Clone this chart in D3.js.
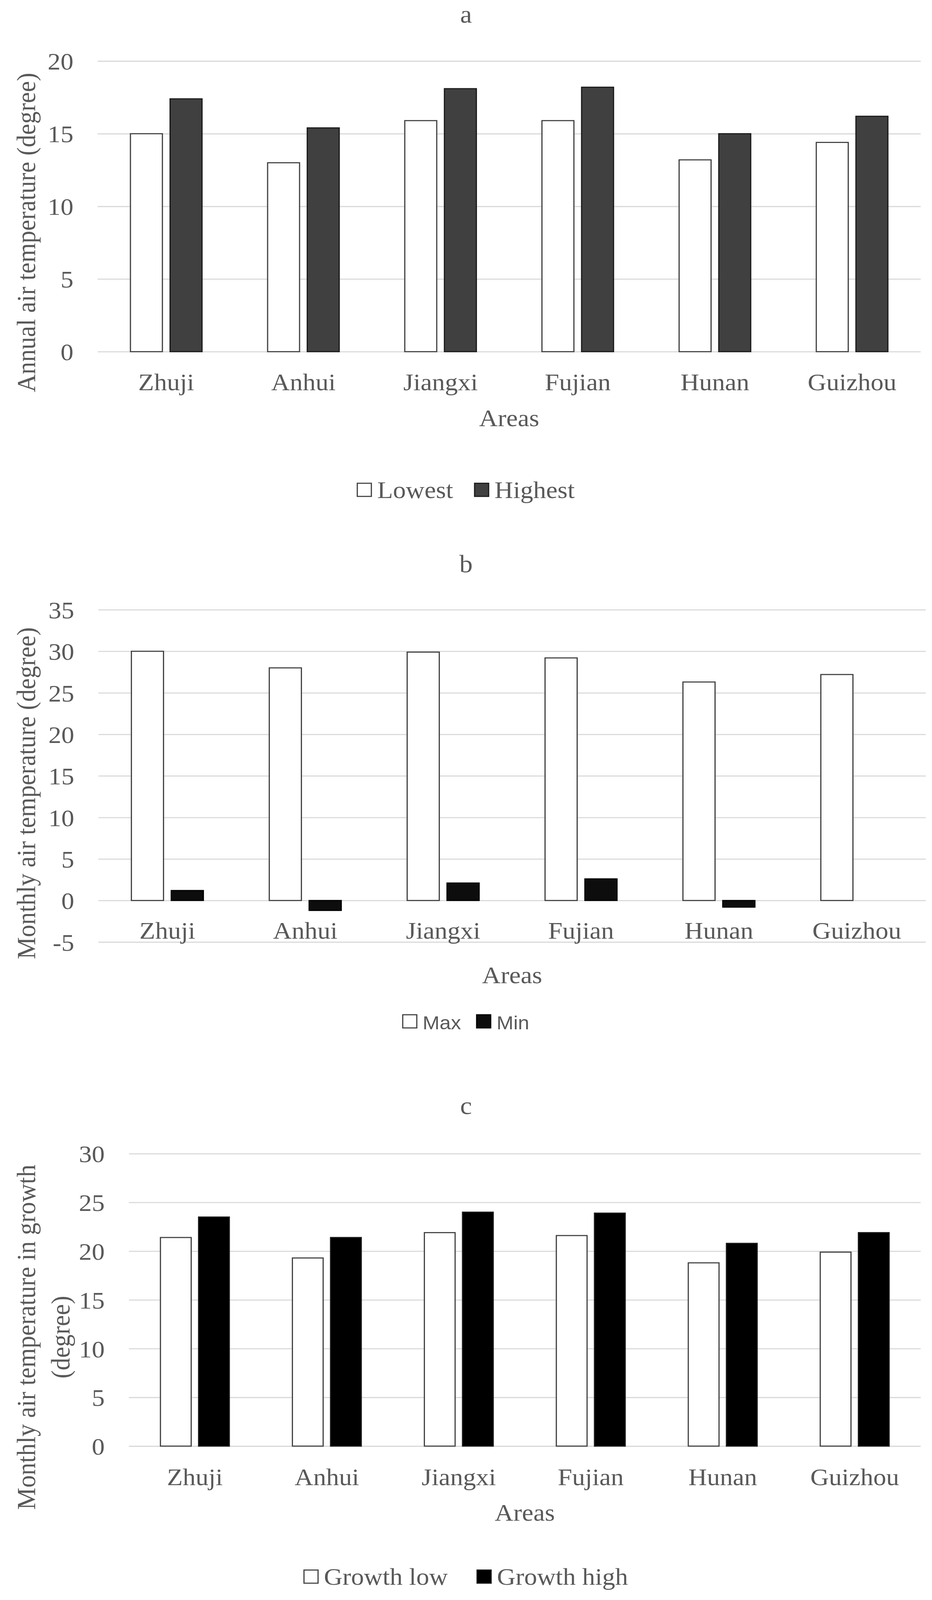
<!DOCTYPE html>
<html>
<head>
<meta charset="utf-8">
<script src="https://cdn.jsdelivr.net/npm/d3@7"></script>
<style>
    html, body { margin: 0; padding: 0; background: #fff; overflow: hidden; }
    svg { display: block; }
</style>
</head>
<body>
<script>
//chart data
var areas = ['Zhuji', 'Anhui', 'Jiangxi', 'Fujian', 'Hunan', 'Guizhou'];
var annualLowest = [15.0, 13.0, 15.9, 15.9, 13.2, 14.4];
var annualHighest = [17.4, 15.4, 18.1, 18.2, 15.0, 16.2];
var monthlyMax = [30.0, 28.0, 29.9, 29.2, 26.3, 27.2];
var monthlyMin = [1.2, -1.2, 2.1, 2.6, -0.8, null];
var growthLow = [21.4, 19.3, 21.9, 21.6, 18.8, 19.9];
var growthHigh = [23.5, 21.4, 24.0, 23.9, 20.8, 21.9];
var ticksA = [0, 5, 10, 15, 20];
var ticksB = [-5, 0, 5, 10, 15, 20, 25, 30, 35];
var ticksC = [0, 5, 10, 15, 20, 25, 30];

(function () {
    var width = 2386,
        height = 4377,
        serif = "'Liberation Serif', 'Times New Roman', serif",
        sans = "'Liberation Sans', Arial, sans-serif",
        textColor = '#595959',
        gridColor = '#d9d9d9';

    //svg is stretched over the visible window so nothing gets cut
    var svg = d3.select('body').append('svg')
        .attr('width', window.innerWidth || width)
        .attr('height', window.innerHeight || height)
        .attr('viewBox', '0 0 ' + width + ' ' + height)
        .attr('preserveAspectRatio', 'none');

    svg.append('rect').attr('width', width).attr('height', height).attr('fill', '#fff');

    //draws one bar panel
    function drawPanel(o) {
        var g = svg.append('g'),
            x0 = d3.scaleBand().domain(areas).range([o.left, o.right]).padding(0),
            y = d3.scaleLinear().domain([o.ticks[0], o.ticks[o.ticks.length - 1]]).range([o.bottom, o.top]),
            bw = x0.bandwidth(),
            barW = bw * 0.233,
            barGap = bw * 0.056;

        //panel letter
        g.append('text')
            .attr('x', width / 2)
            .attr('y', o.titleY)
            .attr('text-anchor', 'middle')
            .attr('font-family', serif)
            .attr('font-size', 68)
            .attr('fill', textColor)
            .text(o.title);

        //grid and y tick labels
        var yAxis = g.append('g')
            .attr('transform', 'translate(' + o.left + ',0)')
            .call(d3.axisLeft(y)
                .tickValues(o.ticks)
                .tickFormat(function (d) { return String(d); })
                .tickSize(-(o.right - o.left))
                .tickPadding(62));
        yAxis.select('.domain').remove();
        yAxis.selectAll('line').attr('stroke', gridColor).attr('stroke-width', 3);
        yAxis.selectAll('text')
            .attr('font-family', serif)
            .attr('font-size', 66)
            .attr('fill', textColor)
            .attr('dy', '0.35em');

        //category labels
        var xAxis = g.append('g')
            .attr('transform', 'translate(0,' + y(0) + ')')
            .call(d3.axisBottom(x0).tickSize(0));
        xAxis.select('.domain').remove();
        xAxis.selectAll('text')
            .attr('y', o.labelOffset)
            .attr('dy', 0)
            .attr('font-family', serif)
            .attr('font-size', 66)
            .attr('fill', textColor);

        //bars for every serie
        o.series.forEach(function (s, i) {
            var offset = (i - (o.series.length - 1) / 2) * (barW + barGap);
            g.append('g').selectAll('rect')
                .data(s.values.map(function (v, j) { return { area: areas[j], value: v }; })
                    .filter(function (d) { return d.value !== null; }))
                .enter().append('rect')
                .attr('x', function (d) { return x0(d.area) + bw / 2 + offset - barW / 2; })
                .attr('y', function (d) { return y(Math.max(d.value, 0)); })
                .attr('width', barW)
                .attr('height', function (d) { return Math.abs(y(d.value) - y(0)); })
                .attr('fill', s.fill)
                .attr('stroke', s.stroke)
                .attr('stroke-width', 3);
        });

        //x axis title
        g.append('text')
            .attr('x', (o.left + o.right) / 2)
            .attr('y', o.areasY)
            .attr('text-anchor', 'middle')
            .attr('font-family', serif)
            .attr('font-size', 66)
            .attr('fill', textColor)
            .text('Areas');

        //y axis title, may have more lines
        var yt = g.append('text')
            .attr('transform', 'translate(' + o.yTitleX + ',' + o.yTitleY + ') rotate(-90)')
            .attr('text-anchor', 'middle')
            .attr('font-family', serif)
            .attr('font-size', 68)
            .attr('fill', textColor);
        o.yTitle.forEach(function (line, i) {
            yt.append('tspan')
                .attr('x', 0)
                .attr('dy', i === 0 ? '0.35em' : o.yTitleLineGap)
                .text(line);
        });

        //legend, centred under the panel
        var lg = g.append('g'),
            cursor = 0,
            box = 36;
        o.series.forEach(function (s) {
            lg.append('rect')
                .attr('x', cursor)
                .attr('y', o.legendY - box - 4)
                .attr('width', box)
                .attr('height', box)
                .attr('fill', s.fill)
                .attr('stroke', s.stroke)
                .attr('stroke-width', 3);
            var t = lg.append('text')
                .attr('x', cursor + box + 15)
                .attr('y', o.legendY)
                .attr('font-family', o.legendFont)
                .attr('font-size', o.legendSize)
                .attr('fill', textColor)
                .text(s.name);
            cursor += box + 15 + t.node().getComputedTextLength() + o.legendGap;
        });
        cursor -= o.legendGap;
        lg.attr('transform', 'translate(' + (width / 2 - cursor / 2) + ',0)');
    }

    //panel a
    drawPanel({
        title: 'a', titleY: 62,
        top: 167, bottom: 962, left: 250, right: 2357,
        ticks: ticksA, labelOffset: 106, areasY: 1166,
        yTitle: ['Annual air temperature (degree)'], yTitleX: 66, yTitleY: 636,
        legendY: 1362, legendFont: serif, legendSize: 66, legendGap: 55,
        series: [
            { name: 'Lowest', values: annualLowest, fill: '#ffffff', stroke: '#404040' },
            { name: 'Highest', values: annualHighest, fill: '#404040', stroke: '#1a1a1a' }
        ]
    });

    //panel b
    drawPanel({
        title: 'b', titleY: 1565,
        top: 1668, bottom: 2577, left: 252, right: 2370,
        ticks: ticksB, labelOffset: 105, areasY: 2690,
        yTitle: ['Monthly air temperature (degree)'], yTitleX: 66, yTitleY: 2170,
        legendY: 2816, legendFont: sans, legendSize: 52, legendGap: 40,
        series: [
            { name: 'Max', values: monthlyMax, fill: '#ffffff', stroke: '#404040' },
            { name: 'Min', values: monthlyMin, fill: '#0d0d0d', stroke: '#000000' }
        ]
    });

    //panel c
    drawPanel({
        title: 'c', titleY: 3048,
        top: 3156, bottom: 3956, left: 330, right: 2357,
        ticks: ticksC, labelOffset: 107, areasY: 4160,
        yTitle: ['Monthly air temperature in growth', '(degree)'], yTitleX: 66, yTitleY: 3658, yTitleLineGap: 88,
        legendY: 4335, legendFont: serif, legendSize: 66, legendGap: 75,
        series: [
            { name: 'Growth low', values: growthLow, fill: '#ffffff', stroke: '#404040' },
            { name: 'Growth high', values: growthHigh, fill: '#000000', stroke: '#1a1a1a' }
        ]
    });
})();
</script>
</body>
</html>
